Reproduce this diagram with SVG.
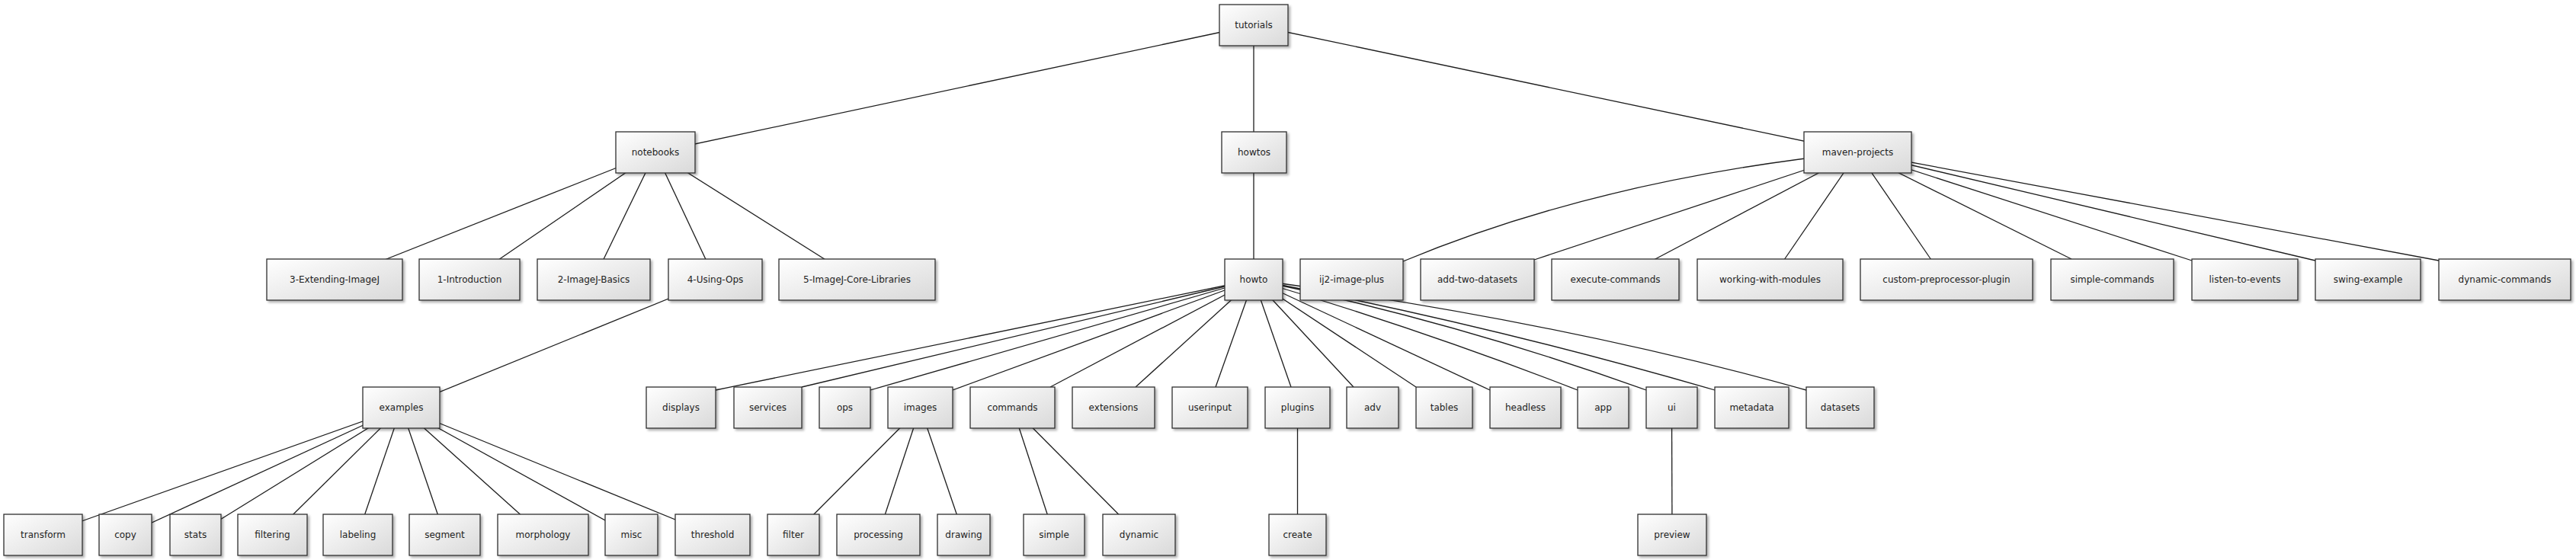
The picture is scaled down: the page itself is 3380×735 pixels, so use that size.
<svg xmlns="http://www.w3.org/2000/svg" width="3380" height="735" viewBox="0 0 3380 735">
<style>
.bg{fill:#ffffff}
.node rect{fill:url(#boxfill);stroke:#2e2e2e;stroke-width:1.3;filter:url(#shadow)}
.node text{font-family:"DejaVu Sans","Liberation Sans",sans-serif;font-size:12px;fill:#1e1e1e;text-anchor:middle}
#connectors line,#connectors path{stroke:#1e1e1e;stroke-width:1.3;fill:none}
</style>
<defs>
<linearGradient id="boxfill" x1="0" y1="0" x2="1" y2="1">
<stop offset="0" stop-color="#ffffff"/>
<stop offset="1" stop-color="#d9d9d9"/>
</linearGradient>
<filter id="shadow" x="-10%" y="-10%" width="130%" height="140%">
<feDropShadow dx="2.5" dy="2.5" stdDeviation="1.5" flood-color="#000000" flood-opacity="0.3"/>
</filter>
</defs>
<rect class="bg" x="0" y="0" width="3380" height="735"/>
<g id="connectors">
<line x1="1645" y1="33" x2="860" y2="200"/>
<line x1="1645" y1="33" x2="1645" y2="200"/>
<line x1="1645" y1="33" x2="2437.5" y2="200"/>
<line x1="860" y1="200" x2="439" y2="367"/>
<line x1="860" y1="200" x2="616" y2="367"/>
<line x1="860" y1="200" x2="779" y2="367"/>
<line x1="860" y1="200" x2="938.5" y2="367"/>
<line x1="860" y1="200" x2="1124.5" y2="367"/>
<line x1="1645" y1="200" x2="1645" y2="367"/>
<path d="M2437.5,200 Q2100,235 1841,343"/>
<line x1="2437.5" y1="200" x2="2013" y2="341"/>
<line x1="2437.5" y1="200" x2="2170" y2="341"/>
<line x1="2437.5" y1="200" x2="2341" y2="341"/>
<line x1="2437.5" y1="200" x2="2534" y2="341"/>
<line x1="2437.5" y1="200" x2="2718" y2="340"/>
<line x1="2437.5" y1="200" x2="2876" y2="342"/>
<line x1="2437.5" y1="200" x2="3038" y2="342"/>
<line x1="2437.5" y1="200" x2="3200" y2="342"/>
<line x1="938.5" y1="367" x2="526.5" y2="535"/>
<line x1="1645" y1="367" x2="939" y2="512"/>
<line x1="1645" y1="367" x2="1052" y2="508"/>
<line x1="1645" y1="367" x2="1142" y2="512"/>
<line x1="1645" y1="367" x2="1250" y2="512"/>
<line x1="1645" y1="367" x2="1378" y2="508"/>
<line x1="1645" y1="367" x2="1490" y2="508"/>
<line x1="1645" y1="367" x2="1595" y2="508"/>
<line x1="1645" y1="367" x2="1694" y2="508"/>
<line x1="1645" y1="367" x2="1776" y2="508"/>
<line x1="1645" y1="367" x2="1858" y2="508"/>
<line x1="1645" y1="367" x2="1955" y2="512"/>
<path d="M1645,367 Q1870,434 2070,512"/>
<path d="M1645,367 Q1910,422 2160,512"/>
<path d="M1645,367 Q1950,425 2250,512"/>
<path d="M1645,367 Q2050,422 2370,512"/>
<line x1="526.5" y1="535" x2="56.5" y2="702"/>
<line x1="526.5" y1="535" x2="164.5" y2="702"/>
<line x1="526.5" y1="535" x2="256.5" y2="702"/>
<line x1="526.5" y1="535" x2="357.5" y2="702"/>
<line x1="526.5" y1="535" x2="469.5" y2="702"/>
<line x1="526.5" y1="535" x2="583.5" y2="702"/>
<line x1="526.5" y1="535" x2="712.5" y2="702"/>
<line x1="526.5" y1="535" x2="828.5" y2="702"/>
<line x1="526.5" y1="535" x2="935" y2="702"/>
<line x1="1207.5" y1="535" x2="1041" y2="702"/>
<line x1="1207.5" y1="535" x2="1152.5" y2="702"/>
<line x1="1207.5" y1="535" x2="1264.5" y2="702"/>
<line x1="1328.5" y1="535" x2="1383" y2="702"/>
<line x1="1328.5" y1="535" x2="1494.5" y2="702"/>
<line x1="1702.5" y1="535" x2="1702.5" y2="702"/>
<line x1="2193.5" y1="535" x2="2194" y2="702"/>
</g>
<g id="n-tutorials" class="node"><rect x="1600" y="6" width="90" height="54"/><text x="1645" y="37">tutorials</text></g>
<g id="n-notebooks" class="node"><rect x="808" y="173" width="104" height="54"/><text x="860" y="204">notebooks</text></g>
<g id="n-howtos" class="node"><rect x="1603" y="173" width="85" height="54"/><text x="1645.5" y="204">howtos</text></g>
<g id="n-maven-projects" class="node"><rect x="2367" y="173" width="141" height="54"/><text x="2437.5" y="204">maven-projects</text></g>
<g id="n-3-Extending-ImageJ" class="node"><rect x="350" y="340" width="178" height="54"/><text x="439" y="371">3-Extending-ImageJ</text></g>
<g id="n-1-Introduction" class="node"><rect x="550" y="340" width="132" height="54"/><text x="616" y="371">1-Introduction</text></g>
<g id="n-2-ImageJ-Basics" class="node"><rect x="705" y="340" width="148" height="54"/><text x="779" y="371">2-ImageJ-Basics</text></g>
<g id="n-4-Using-Ops" class="node"><rect x="877" y="340" width="123" height="54"/><text x="938.5" y="371">4-Using-Ops</text></g>
<g id="n-5-ImageJ-Core-Libraries" class="node"><rect x="1022" y="340" width="205" height="54"/><text x="1124.5" y="371">5-ImageJ-Core-Libraries</text></g>
<g id="n-howto" class="node"><rect x="1607" y="340" width="76" height="54"/><text x="1645" y="371">howto</text></g>
<g id="n-ij2-image-plus" class="node"><rect x="1706" y="340" width="135" height="54"/><text x="1773.5" y="371">ij2-image-plus</text></g>
<g id="n-add-two-datasets" class="node"><rect x="1864" y="340" width="149" height="54"/><text x="1938.5" y="371">add-two-datasets</text></g>
<g id="n-execute-commands" class="node"><rect x="2036" y="340" width="167" height="54"/><text x="2119.5" y="371">execute-commands</text></g>
<g id="n-working-with-modules" class="node"><rect x="2227" y="340" width="191" height="54"/><text x="2322.5" y="371">working-with-modules</text></g>
<g id="n-custom-preprocessor-plugin" class="node"><rect x="2441" y="340" width="226" height="54"/><text x="2554" y="371">custom-preprocessor-plugin</text></g>
<g id="n-simple-commands" class="node"><rect x="2691" y="340" width="161" height="54"/><text x="2771.5" y="371">simple-commands</text></g>
<g id="n-listen-to-events" class="node"><rect x="2876" y="340" width="139" height="54"/><text x="2945.5" y="371">listen-to-events</text></g>
<g id="n-swing-example" class="node"><rect x="3038" y="340" width="138" height="54"/><text x="3107" y="371">swing-example</text></g>
<g id="n-dynamic-commands" class="node"><rect x="3200" y="340" width="173" height="54"/><text x="3286.5" y="371">dynamic-commands</text></g>
<g id="n-examples" class="node"><rect x="476" y="508" width="101" height="54"/><text x="526.5" y="539">examples</text></g>
<g id="n-displays" class="node"><rect x="848" y="508" width="91" height="54"/><text x="893.5" y="539">displays</text></g>
<g id="n-services" class="node"><rect x="963" y="508" width="89" height="54"/><text x="1007.5" y="539">services</text></g>
<g id="n-ops" class="node"><rect x="1075" y="508" width="67" height="54"/><text x="1108.5" y="539">ops</text></g>
<g id="n-images" class="node"><rect x="1165" y="508" width="85" height="54"/><text x="1207.5" y="539">images</text></g>
<g id="n-commands" class="node"><rect x="1273" y="508" width="111" height="54"/><text x="1328.5" y="539">commands</text></g>
<g id="n-extensions" class="node"><rect x="1407" y="508" width="108" height="54"/><text x="1461" y="539">extensions</text></g>
<g id="n-userinput" class="node"><rect x="1538" y="508" width="99" height="54"/><text x="1587.5" y="539">userinput</text></g>
<g id="n-plugins" class="node"><rect x="1660" y="508" width="85" height="54"/><text x="1702.5" y="539">plugins</text></g>
<g id="n-adv" class="node"><rect x="1767" y="508" width="68" height="54"/><text x="1801" y="539">adv</text></g>
<g id="n-tables" class="node"><rect x="1858" y="508" width="74" height="54"/><text x="1895" y="539">tables</text></g>
<g id="n-headless" class="node"><rect x="1955" y="508" width="93" height="54"/><text x="2001.5" y="539">headless</text></g>
<g id="n-app" class="node"><rect x="2070" y="508" width="67" height="54"/><text x="2103.5" y="539">app</text></g>
<g id="n-ui" class="node"><rect x="2160" y="508" width="67" height="54"/><text x="2193.5" y="539">ui</text></g>
<g id="n-metadata" class="node"><rect x="2250" y="508" width="97" height="54"/><text x="2298.5" y="539">metadata</text></g>
<g id="n-datasets" class="node"><rect x="2370" y="508" width="89" height="54"/><text x="2414.5" y="539">datasets</text></g>
<g id="n-transform" class="node"><rect x="5" y="675" width="103" height="54"/><text x="56.5" y="706">transform</text></g>
<g id="n-copy" class="node"><rect x="130" y="675" width="69" height="54"/><text x="164.5" y="706">copy</text></g>
<g id="n-stats" class="node"><rect x="223" y="675" width="67" height="54"/><text x="256.5" y="706">stats</text></g>
<g id="n-filtering" class="node"><rect x="312" y="675" width="91" height="54"/><text x="357.5" y="706">filtering</text></g>
<g id="n-labeling" class="node"><rect x="424" y="675" width="91" height="54"/><text x="469.5" y="706">labeling</text></g>
<g id="n-segment" class="node"><rect x="537" y="675" width="93" height="54"/><text x="583.5" y="706">segment</text></g>
<g id="n-morphology" class="node"><rect x="653" y="675" width="119" height="54"/><text x="712.5" y="706">morphology</text></g>
<g id="n-misc" class="node"><rect x="794" y="675" width="69" height="54"/><text x="828.5" y="706">misc</text></g>
<g id="n-threshold" class="node"><rect x="886" y="675" width="98" height="54"/><text x="935" y="706">threshold</text></g>
<g id="n-filter" class="node"><rect x="1007" y="675" width="68" height="54"/><text x="1041" y="706">filter</text></g>
<g id="n-processing" class="node"><rect x="1098" y="675" width="109" height="54"/><text x="1152.5" y="706">processing</text></g>
<g id="n-drawing" class="node"><rect x="1230" y="675" width="69" height="54"/><text x="1264.5" y="706">drawing</text></g>
<g id="n-simple" class="node"><rect x="1343" y="675" width="80" height="54"/><text x="1383" y="706">simple</text></g>
<g id="n-dynamic" class="node"><rect x="1447" y="675" width="95" height="54"/><text x="1494.5" y="706">dynamic</text></g>
<g id="n-create" class="node"><rect x="1665" y="675" width="75" height="54"/><text x="1702.5" y="706">create</text></g>
<g id="n-preview" class="node"><rect x="2149" y="675" width="90" height="54"/><text x="2194" y="706">preview</text></g>
</svg>
